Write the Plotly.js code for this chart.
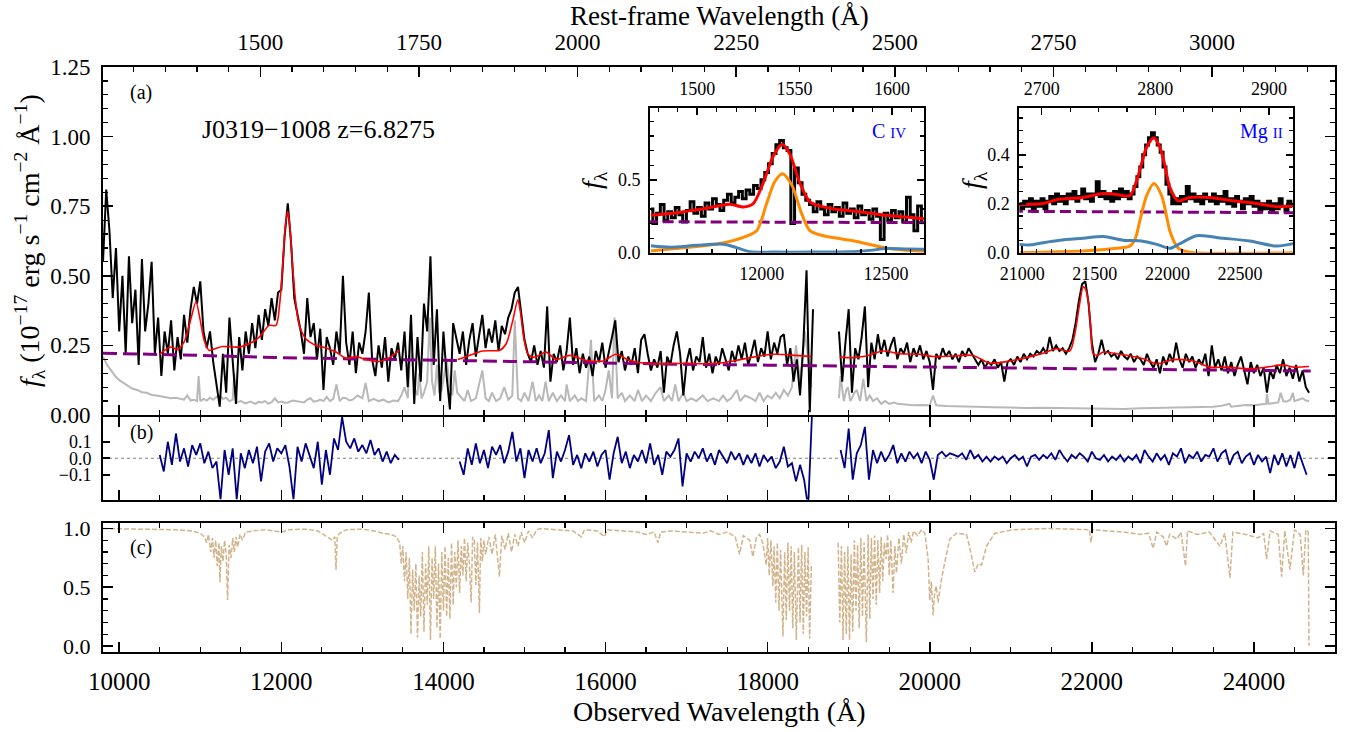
<!DOCTYPE html>
<html><head><meta charset="utf-8">
<script src="https://cdn.plot.ly/plotly-3.0.1.min.js"></script>
<style>html,body{margin:0;padding:0;background:#fff}#plot{width:1348px;height:732px}</style>
</head><body><div id="plot"></div>
<script>
// ---------------- DATA ----------------
const redshift = 6.8275;

// observed spectrum, segment 1 (start 9800 A, 40 A bins)
const spec1Start = 9800, spec1Step = 40;
const spec1Flux = [
0.55,0.81,0.66,0.42,0.60,0.30,0.50,0.22,0.57,0.33,
0.45,0.18,0.56,0.30,0.40,0.55,0.22,0.35,0.14,0.30,
0.22,0.34,0.16,0.28,0.20,0.36,0.26,0.38,0.46,0.40,
0.48,0.30,0.24,0.30,0.19,0.10,0.03,0.22,0.08,0.35,
0.18,0.04,0.28,0.16,0.30,0.22,0.33,0.24,0.36,0.27,
0.38,0.32,0.42,0.34,0.44,0.45,0.64,0.76,0.62,0.42,
0.36,0.30,0.22,0.42,0.28,0.33,0.20,0.31,0.09,0.28,
0.24,0.18,0.30,0.22,0.50,0.26,0.18,0.30,0.15,0.26,
0.22,0.30,0.44,0.20,0.14,0.25,0.17,0.28,0.12,0.24,
0.20,0.26,0.16,0.30,0.10,0.36,0.04,0.28,0.12,0.40,
0.30,0.57,0.18,0.38,0.05,0.30,0.14,0.02,0.33,0.28,
0.22,0.30,0.18,0.27,0.33,0.21,0.29,0.36,0.24,0.31,
0.26,0.34,0.23,0.32,0.29,0.35,0.38,0.44,0.46,0.37,
0.27,0.22,0.19,0.25,0.18,0.23,0.17,0.39,0.12,0.22,
0.19,0.25,0.16,0.23,0.35,0.18,0.24,0.15,0.22,0.17,
0.21,0.14,0.23,0.19,0.26,0.17,0.22,0.28,0.34,0.19,
0.23,0.16,0.21,0.18,0.24,0.15,0.27,0.29,0.22,0.16,
0.20,0.17,0.23,0.08,0.21,0.18,0.25,0.30,0.22,0.07,
0.19,0.24,0.16,0.21,0.19,0.28,0.17,0.22,0.15,0.21,
0.18,0.24,0.20,0.16,0.23,0.19,0.25,0.20,0.26,0.18,
0.22,0.27,0.19,0.24,0.21,0.30,0.20,0.26,0.22,0.28,
0.29,0.18,0.24,0.12,0.20,0.07,0.25,0.52,0.01,0.38];
// segment 2 (start 18880 A, 40 A bins)
const spec2Start = 18880, spec2Step = 40;
const spec2Flux = [
0.30,0.12,0.26,0.38,0.08,0.24,0.20,0.28,0.39,0.10,
0.26,0.20,0.29,0.22,0.27,0.21,0.25,0.28,0.20,0.24,
0.22,0.26,0.19,0.24,0.21,0.25,0.20,0.23,0.19,0.09,
0.22,0.20,0.24,0.21,0.23,0.20,0.22,0.19,0.23,0.21,
0.24,0.22,0.20,0.18,0.20,0.17,0.19,0.18,0.20,0.17,
0.19,0.12,0.19,0.20,0.18,0.21,0.19,0.22,0.20,0.22,
0.21,0.23,0.22,0.24,0.22,0.28,0.23,0.25,0.23,0.24,
0.22,0.24,0.27,0.33,0.41,0.47,0.48,0.40,0.26,0.19,
0.22,0.27,0.22,0.23,0.21,0.22,0.20,0.23,0.21,0.20,
0.22,0.19,0.21,0.20,0.18,0.22,0.19,0.17,0.20,0.15,
0.21,0.18,0.22,0.19,0.26,0.20,0.17,0.22,0.19,0.21,
0.17,0.20,0.18,0.22,0.14,0.25,0.17,0.20,0.16,0.21,
0.15,0.19,0.14,0.18,0.21,0.16,0.11,0.19,0.15,0.18,
0.14,0.17,0.08,0.16,0.13,0.18,0.15,0.20,0.14,0.17,
0.13,0.18,0.12,0.16,0.10,0.08];

// flux error spectrum (wavelength, error)
const err1Wave = [9800,9850,9900,9950,10000,10050,10100,10160,10220,10280,10340,10400,10460,10520,10580,10640,10700,10760,10800,10840,10880,10920,10960,10980,11000,11040,11080,11120,11160,11200,11240,11280,11320,11360,11400,11420,11450,11500,11560,11620,11680,11720,11760,11800,11840,11880,11920,11960,12000,12040,12080,12140,12200,12240,12280,12320,12360,12400,12440,12480,12520,12560,12600,12640,12680,12720,12760,12800,12840,12880,12940,13000,13040,13080,13140,13200,13260,13320,13380,13440,13480,13520,13560,13600,13640,13680,13700,13730,13760,13800,13830,13860,13890,13920,13950,13980,14010,14040,14080,14110,14140,14170,
14200,14260,14300,14340,14400,14440,14480,14520,14560,14600,14650,14700,14750,14800,14850,14880,14920,14960,15000,15050,15100,15140,15180,15220,15260,15300,15350,15400,15450,15500,15520,15560,15620,15660,15700,15760,15820,15860,15920,15960,16000,16040,16080,16110,16150,16200,16240,16300,16360,16400,16450,16500,16560,16620,16680,16720,16780,16820,16860,16900,16960,17000,17060,17120,17200,17260,17330,17400,17450,17500,17550,17620,17660,17720,17800,17850,17900,17950,18000,18050,18100,18150,18200,18250,18300,18350,18400,18460,18500,18540];
const err1Flux = [0.21,0.18,0.16,0.14,0.125,0.115,0.105,0.095,0.09,0.082,0.08,0.072,0.07,0.066,0.064,0.06,0.062,0.057,0.055,0.07,0.052,0.055,0.05,0.14,0.05,0.058,0.052,0.062,0.055,0.065,0.07,0.058,0.062,0.05,0.055,0.15,0.045,0.05,0.042,0.048,0.04,0.047,0.045,0.05,0.04,0.046,0.06,0.045,0.048,0.044,0.045,0.052,0.05,0.046,0.045,0.055,0.06,0.048,0.05,0.055,0.05,0.065,0.05,0.058,0.11,0.05,0.062,0.06,0.052,0.055,0.07,0.06,0.115,0.05,0.058,0.05,0.055,0.045,0.052,0.05,0.07,0.10,0.06,0.27,0.10,0.07,0.15,0.06,0.08,0.12,0.35,0.12,0.07,0.18,0.08,0.09,0.14,0.20,0.10,0.07,0.16,0.08,
0.07,0.05,0.09,0.05,0.06,0.11,0.16,0.06,0.05,0.08,0.05,0.06,0.10,0.055,0.07,0.34,0.06,0.05,0.08,0.05,0.12,0.05,0.07,0.05,0.12,0.05,0.08,0.05,0.07,0.05,0.11,0.05,0.07,0.05,0.06,0.05,0.27,0.05,0.07,0.05,0.09,0.16,0.06,0.35,0.06,0.08,0.05,0.07,0.05,0.09,0.05,0.07,0.05,0.08,0.10,0.05,0.07,0.05,0.11,0.05,0.08,0.05,0.06,0.05,0.07,0.05,0.06,0.05,0.07,0.05,0.06,0.09,0.05,0.07,0.06,0.05,0.08,0.05,0.07,0.06,0.08,0.06,0.09,0.07,0.10,0.25,0.12,0.30,0.20,0.10];
const err2Wave = [18880,18900,18940,18970,18990,19020,19040,19070,19100,19140,19180,19220,19260,19300,19350,19400,19450,19500,19560,19600,19700,19800,19900,20000,20040,20080,20200,20400,20600,20800,21000,21200,21400,21600,21800,22000,22200,22400,22600,22800,23000,23200,23400,23500,23600,23700,23720,23800,23900,24000,24080,24150,24160,24180,24250,24300,24330,24360,24400,24450,24480,24500,24550,24600,24640,24680];
const err2Flux = [0.06,0.14,0.05,0.09,0.10,0.05,0.06,0.08,0.09,0.05,0.13,0.05,0.07,0.05,0.06,0.04,0.05,0.04,0.045,0.04,0.038,0.035,0.036,0.035,0.07,0.035,0.032,0.03,0.03,0.028,0.027,0.025,0.026,0.025,0.024,0.022,0.023,0.022,0.024,0.025,0.026,0.028,0.029,0.03,0.033,0.04,0.03,0.033,0.036,0.035,0.038,0.04,0.075,0.04,0.043,0.045,0.08,0.05,0.048,0.055,0.08,0.05,0.055,0.06,0.052,0.05];

// best-fit model (wavelength, flux), three fitted windows
const fit1Wave = [10494,10560,10638,10720,10800,10880,10947,11000,11049,11111,11200,11276,11380,11481,11605,11728,11852,11934,11980,12016,12050,12078,12105,12140,12180,12222,12300,12428,12510,12600,12675,12798,12922,13045,13210,13333,13457];
const fit1Flux = [0.217,0.232,0.244,0.236,0.262,0.34,0.406,0.34,0.268,0.232,0.24,0.246,0.245,0.244,0.256,0.28,0.322,0.322,0.40,0.532,0.68,0.733,0.68,0.532,0.40,0.322,0.275,0.25,0.244,0.235,0.226,0.204,0.21,0.199,0.192,0.206,0.232];
const fit2Wave = [14177,14321,14486,14600,14691,14774,14856,14918,14950,14990,15040,15103,15165,15268,15391,15556,15761,15967,16132,16296,16584,16996,17202,17407,17613,17819,18066,18354,18540];
const fit2Flux = [0.199,0.214,0.23,0.231,0.232,0.256,0.34,0.414,0.37,0.28,0.22,0.208,0.212,0.226,0.199,0.214,0.196,0.194,0.218,0.196,0.184,0.186,0.184,0.187,0.196,0.208,0.218,0.214,0.21];
const fit3Wave = [18889,19053,19218,19424,19630,19877,20041,20288,20535,20741,20988,21194,21399,21564,21728,21790,21850,21893,21925,21955,21990,22016,22074,22140,22346,22634,22798,23004,23251,23457,23663,23951,24157,24362,24486,24680];
const fit3Flux = [0.208,0.206,0.212,0.23,0.22,0.218,0.21,0.212,0.214,0.186,0.194,0.206,0.222,0.238,0.23,0.292,0.40,0.46,0.45,0.412,0.30,0.22,0.215,0.226,0.218,0.202,0.184,0.199,0.194,0.172,0.172,0.166,0.172,0.18,0.172,0.174];

// power-law continuum
const contWave = [9800,10500,11000,12000,13000,14000,15000,16000,17000,18000,19000,20000,21000,22000,23000,24000,24700];
const contFlux = [0.222,0.218,0.214,0.206,0.201,0.196,0.190,0.186,0.182,0.179,0.175,0.172,0.169,0.166,0.163,0.160,0.158];

// residuals (50 A bins)
const res1Start = 10500, res2Start = 14200, res3Start = 18900, resStep = 50;
const res1 = [0.02,-0.08,0.10,-0.04,0.15,-0.02,0.06,-0.05,0.08,0.02,
0.09,-0.03,0.04,-0.06,-0.02,-0.25,0.05,-0.10,0.06,-0.25,
0.03,-0.06,0.05,-0.03,0.07,-0.14,0.04,0.09,-0.02,0.06,
0.03,0.08,-0.05,-0.25,0.07,-0.02,0.09,0.01,-0.06,0.10,
-0.16,0.05,-0.10,0.12,0.05,0.25,0.10,0.06,0.12,0.04,
0.08,0.03,0.11,0.02,0.06,-0.02,0.04,-0.03,0.02,-0.01];
const res2 = [-0.02,-0.10,0.06,-0.04,0.09,-0.03,0.05,-0.06,0.07,0.02,
0.08,-0.03,0.04,0.16,-0.02,0.06,-0.12,0.05,-0.02,0.06,
-0.03,0.03,0.17,-0.12,0.04,-0.02,0.05,0.14,-0.04,0.02,
-0.06,0.03,-0.02,0.04,-0.05,0.02,0.05,-0.13,0.03,0.13,
-0.03,0.04,-0.06,0.02,-0.02,0.05,-0.03,0.09,-0.04,0.02,
-0.10,0.04,0.01,0.05,0.12,-0.17,0.03,-0.02,0.04,0.00,
0.06,-0.02,0.03,-0.04,0.05,0.01,-0.03,0.04,-0.01,0.03,
-0.04,0.02,-0.03,0.03,-0.05,0.02,-0.02,0.01,-0.06,-0.02,
0.07,-0.05,-0.03,-0.14,-0.04,-0.13,-0.30,0.30];
const res3 = [0.05,-0.06,0.18,-0.13,0.03,0.08,0.19,-0.13,0.05,-0.03,
0.04,-0.02,0.02,0.08,-0.03,0.03,-0.02,0.04,0.00,0.03,
-0.03,0.04,-0.01,-0.13,0.02,0.04,0.01,0.03,0.02,0.01,
0.03,-0.01,0.05,0.00,0.02,-0.02,0.01,-0.02,0.01,-0.01,
0.01,-0.03,0.00,0.02,-0.01,0.01,-0.05,0.01,0.02,-0.01,
0.02,0.00,0.03,-0.01,0.05,0.01,-0.02,0.02,0.00,0.03,
0.01,-0.02,0.04,0.00,-0.01,0.02,-0.02,0.01,-0.01,0.02,
-0.02,0.01,-0.01,0.02,-0.03,0.05,0.01,-0.02,0.03,-0.01,
0.02,-0.04,0.03,0.01,0.06,-0.03,0.02,0.00,0.04,-0.02,
0.02,0.01,0.06,-0.02,0.03,0.05,-0.04,0.02,0.04,-0.03,
0.01,0.03,-0.04,0.02,-0.02,0.01,-0.09,0.02,-0.04,0.03,
-0.05,0.02,-0.06,0.04,-0.03,-0.10];

// telluric transmission (wavelength, transmission)
const tell1Wave = [9800,10400,10700,10900,11000,11050,11080,11100,11130,11150,11170,11190,11210,11230,11243,11260,11280,11300,11320,11337,11355,11380,11400,11420,11440,11460,11490,11520,11560,11650,11800,12000,12100,12300,12450,12520,12580,12630,12660,12675,12690,12720,12800,13000,13150,13250,13350,13420,13460,
13480,13500,13520,13540,13560,13580,13600,13620,13640,13660,13680,13700,13720,13740,13760,13780,13800,13820,13840,13860,13880,13900,13920,13940,13960,13980,14000,14020,14040,14060,14080,14100,14120,14140,14160,14180,14200,14220,14240,14260,14280,14300,14320,14342,14360,14380,14400,14420,14444,14460,14480,14500,14520,14560,14600,14640,14691,14720,14760,14800,14840,14880,14920,14960,15000,15050,15100,15150,
15200,15400,15600,15700,15740,15900,15987,16020,16200,16400,16500,16600,16646,16680,16800,17000,17200,17300,17400,17500,17600,17654,17700,17780,17818,17860,17900,17940,17983,18000,18020,18040,18065,18080,18100,18120,18140,18160,18189,18210,18230,18250,18270,18290,18310,18330,18354,18380,18400,18420,18440,18460,18480,18500,18518,18540];
const tell1Trans = [1.0,0.995,0.99,0.98,0.96,0.93,0.88,0.95,0.80,0.92,0.75,0.90,0.68,0.88,0.54,0.85,0.72,0.90,0.78,0.39,0.86,0.75,0.92,0.80,0.93,0.84,0.95,0.90,0.97,0.98,0.99,0.97,0.99,0.995,0.98,0.95,0.92,0.90,0.93,0.65,0.93,0.96,0.99,0.995,0.98,0.96,0.95,0.93,0.88,
0.70,0.85,0.55,0.80,0.40,0.75,0.10,0.65,0.30,0.70,0.07,0.60,0.25,0.80,0.12,0.70,0.35,0.85,0.05,0.75,0.40,0.85,0.15,0.70,0.06,0.80,0.30,0.85,0.25,0.75,0.23,0.88,0.35,0.80,0.50,0.90,0.45,0.85,0.60,0.92,0.55,0.88,0.70,0.37,0.93,0.90,0.52,0.88,0.28,0.92,0.72,0.90,0.78,0.93,0.78,0.95,0.59,0.94,0.82,0.96,0.80,0.95,0.85,0.97,0.88,0.98,0.92,0.99,
1.0,0.99,0.98,0.93,0.99,0.98,0.93,0.99,0.98,0.97,0.95,0.97,0.88,0.97,0.98,0.97,0.96,0.98,0.95,0.97,0.93,0.78,0.94,0.90,0.76,0.92,0.95,0.88,0.69,0.92,0.60,0.90,0.51,0.85,0.37,0.88,0.30,0.82,0.08,0.80,0.22,0.88,0.30,0.85,0.15,0.80,0.05,0.84,0.20,0.86,0.10,0.80,0.25,0.84,0.06,0.70];
const tell2Wave = [18870,18890,18910,18930,18950,18970,18990,19010,19030,19050,19070,19090,19110,19130,19150,19170,19190,19218,19240,19260,19280,19300,19320,19340,19360,19382,19400,19420,19440,19460,19480,19500,19520,19548,19570,19590,19620,19650,19680,19710,19740,19770,19800,19850,19900,19940,19980,20000,20020,20041,20060,20080,20103,20140,20185,20247,20330,20453,20490,20515,20556,20597,20640,20700,20803,21029,21440,21800,21970,21988,22010,22200,22400,22593,22700,22757,22800,22880,22922,22960,23050,23100,23156,23180,23300,23450,23580,23640,23704,23740,23900,24050,24120,24156,24200,24300,24342,24380,24444,24500,24570,24609,24640,24670,24679];
const tell2Trans = [0.88,0.20,0.85,0.05,0.80,0.10,0.85,0.05,0.78,0.12,0.90,0.30,0.86,0.15,0.92,0.25,0.88,0.03,0.95,0.23,0.92,0.40,0.94,0.35,0.90,0.45,0.93,0.55,0.88,0.74,0.95,0.60,0.90,0.45,0.85,0.62,0.92,0.70,0.95,0.79,0.97,0.88,0.98,0.94,0.99,0.96,0.74,0.39,0.55,0.26,0.45,0.51,0.37,0.55,0.71,0.91,0.96,0.95,0.85,0.76,0.63,0.70,0.69,0.85,0.96,0.99,1.0,0.995,0.99,0.88,0.99,0.98,0.97,0.95,0.96,0.83,0.97,0.93,0.85,0.95,0.91,0.97,0.68,0.98,0.95,0.97,0.85,0.96,0.58,0.97,0.95,0.92,0.96,0.74,0.98,0.95,0.59,0.98,0.65,0.99,0.95,0.60,0.99,0.97,0.0];

// C IV inset: observed spectrum (15 A bins) and model components
const civStart = 11555, civStep = 15;
const civFlux = [0.30,0.20,0.27,0.33,0.22,0.28,0.24,0.31,0.26,0.21,
0.29,0.35,0.27,0.31,0.25,0.34,0.30,0.37,0.33,0.29,
0.36,0.40,0.34,0.38,0.42,0.37,0.43,0.40,0.46,0.44,
0.50,0.55,0.61,0.68,0.74,0.77,0.72,0.70,0.20,0.58,
0.48,0.40,0.36,0.33,0.28,0.35,0.30,0.26,0.33,0.28,
0.31,0.25,0.34,0.27,0.30,0.24,0.32,0.26,0.29,0.23,
0.30,0.25,0.09,0.27,0.22,0.29,0.24,0.28,0.21,0.38,
0.26,0.15,0.32,0.22];
const civFitWave = [11555,11631,11700,11765,11830,11873,11926,11966,12006,12047,12083,12114,12154,12194,12248,12300,12368,12440,12503,12580,12653];
const civFitFlux = [0.256,0.268,0.285,0.302,0.322,0.333,0.314,0.337,0.477,0.663,0.744,0.674,0.477,0.349,0.314,0.298,0.286,0.27,0.256,0.244,0.233];
const civBroadWave = [11555,11698,11832,11926,11980,12020,12053,12084,12121,12161,12194,12248,12368,12503,12653];
const civBroadFlux = [0.012,0.035,0.063,0.105,0.151,0.337,0.488,0.542,0.465,0.268,0.151,0.116,0.082,0.031,0.01];
const civFeWave = [11555,11631,11739,11846,11899,11953,12050,12200,12350,12435,12503,12580,12653];
const civFeFlux = [0.047,0.037,0.051,0.058,0.035,0.007,0.004,0.004,0.006,0.016,0.028,0.025,0.023];

// Mg II inset: observed spectrum (20 A bins) and model components
const mgStart = 20980, mgStep = 20;
const mgFlux = [0.20,0.18,0.21,0.19,0.22,0.17,0.21,0.19,0.22,0.18,
0.21,0.23,0.20,0.24,0.21,0.23,0.20,0.24,0.22,0.25,
0.21,0.23,0.26,0.22,0.24,0.21,0.24,0.29,0.23,0.25,
0.22,0.24,0.21,0.25,0.22,0.26,0.23,0.25,0.22,0.24,
0.27,0.31,0.35,0.40,0.44,0.47,0.49,0.47,0.44,0.41,
0.35,0.28,0.24,0.20,0.22,0.20,0.23,0.21,0.27,0.22,
0.24,0.21,0.23,0.20,0.24,0.22,0.21,0.24,0.20,0.23,
0.21,0.25,0.20,0.22,0.19,0.23,0.21,0.18,0.22,0.20,
0.23,0.19,0.21,0.17,0.20,0.18,0.21,0.17,0.20,0.18,
0.22,0.19,0.17,0.21,0.19];
const mgFitWave = [20980,21060,21145,21260,21420,21558,21650,21742,21788,21825,21857,21907,21948,21985,22017,22074,22155,22293,22453,22614,22752,22867];
const mgFitFlux = [0.196,0.198,0.201,0.219,0.226,0.242,0.238,0.233,0.294,0.37,0.431,0.47,0.431,0.35,0.267,0.212,0.226,0.226,0.212,0.201,0.188,0.192];
const mgBroadWave = [20980,21420,21650,21742,21780,21810,21857,21907,21960,22017,22060,22086,22150,22867];
const mgBroadFlux = [0.0,0.007,0.018,0.027,0.06,0.13,0.233,0.283,0.233,0.089,0.03,0.014,0.002,0.0];
const mgFeWave = [20980,21060,21145,21260,21420,21558,21696,21822,21926,22017,22086,22201,22384,22568,22752,22867];
const mgFeFlux = [0.034,0.032,0.041,0.051,0.059,0.066,0.051,0.048,0.034,0.018,0.037,0.069,0.059,0.048,0.027,0.037];

// ---------------- BUILD ----------------
function grid(start, step, n){ const a=[]; for(let i=0;i<n;i++) a.push(start+i*step); return a; }
function join(parts){ const x=[], y=[]; parts.forEach((p,i)=>{ if(i>0){x.push(null);y.push(null);} x.push(...p[0]); y.push(...p[1]); }); return [x,y]; }
const toRest = arr => arr.map(w => w/(1+redshift));

const [specX, specY] = join([[grid(spec1Start,spec1Step,spec1Flux.length),spec1Flux],[grid(spec2Start,spec2Step,spec2Flux.length),spec2Flux]]);
const [errX, errY] = join([[err1Wave,err1Flux],[err2Wave,err2Flux]]);
const [fitX, fitY] = join([[fit1Wave,fit1Flux],[fit2Wave,fit2Flux],[fit3Wave,fit3Flux]]);
const [resX, resY] = join([[grid(res1Start,resStep,res1.length),res1],[grid(res2Start,resStep,res2.length),res2],[grid(res3Start,resStep,res3.length),res3]]);
const [tellX, tellY] = join([[tell1Wave,tell1Trans],[tell2Wave,tell2Trans]]);

const FONT = '"Liberation Serif", "Times New Roman", serif';
const W = 1348, H = 732;
const px = p => p/W, py = p => 1 - p/H;
const ghost = {mode:'lines', line:{width:0, color:'rgba(0,0,0,0)'}, opacity:0, hoverinfo:'skip'};

const traces = [
  {x:errX, y:errY, xaxis:'x2', yaxis:'y', mode:'lines', line:{color:'#b8b8b8', width:2}, connectgaps:false},
  {x:specX, y:specY, xaxis:'x2', yaxis:'y', mode:'lines', line:{color:'black', width:2}, connectgaps:false},
  {x:contWave, y:contFlux, xaxis:'x2', yaxis:'y', mode:'lines', line:{color:'purple', width:3, dash:'14px,6px'}},
  {x:fitX, y:fitY, xaxis:'x2', yaxis:'y', mode:'lines', line:{color:'red', width:1.6, shape:'spline', smoothing:0.8}, connectgaps:false},
  Object.assign({x:toRest(contWave), y:contFlux, xaxis:'x4', yaxis:'y'}, ghost),
  {x:resX, y:resY, xaxis:'x3', yaxis:'y2', mode:'lines', line:{color:'#000080', width:1.8}, connectgaps:false},
  {x:tellX, y:tellY, xaxis:'x', yaxis:'y3', mode:'lines', line:{color:'#d2b48c', width:1.5, dash:'5px,2px'}, connectgaps:false},
  // C IV inset
  {x:grid(civStart,civStep,civFlux.length), y:civFlux, xaxis:'x5', yaxis:'y4', mode:'lines', line:{color:'black', width:3, shape:'hvh'}},
  {x:contWave, y:contFlux, xaxis:'x5', yaxis:'y4', mode:'lines', line:{color:'purple', width:3, dash:'11px,5px'}},
  {x:civFitWave, y:civFitFlux, xaxis:'x5', yaxis:'y4', mode:'lines', line:{color:'red', width:3, shape:'spline', smoothing:0.8}},
  {x:civBroadWave, y:civBroadFlux, xaxis:'x5', yaxis:'y4', mode:'lines', line:{color:'#ff8c00', width:3, shape:'spline', smoothing:0.8}},
  {x:civFeWave, y:civFeFlux, xaxis:'x5', yaxis:'y4', mode:'lines', line:{color:'#4682b4', width:3, shape:'spline', smoothing:0.8}},
  Object.assign({x:toRest(civFitWave), y:civFitFlux, xaxis:'x6', yaxis:'y4'}, ghost),
  // Mg II inset
  {x:grid(mgStart,mgStep,mgFlux.length), y:mgFlux, xaxis:'x7', yaxis:'y5', mode:'lines', line:{color:'black', width:3, shape:'hvh'}},
  {x:contWave, y:contFlux, xaxis:'x7', yaxis:'y5', mode:'lines', line:{color:'purple', width:3, dash:'11px,5px'}},
  {x:mgFitWave, y:mgFitFlux, xaxis:'x7', yaxis:'y5', mode:'lines', line:{color:'red', width:3, shape:'spline', smoothing:0.8}},
  {x:mgBroadWave, y:mgBroadFlux, xaxis:'x7', yaxis:'y5', mode:'lines', line:{color:'#ff8c00', width:3, shape:'spline', smoothing:0.8}},
  {x:mgFeWave, y:mgFeFlux, xaxis:'x7', yaxis:'y5', mode:'lines', line:{color:'#4682b4', width:3, shape:'spline', smoothing:0.8}},
  Object.assign({x:toRest(mgFitWave), y:mgFitFlux, xaxis:'x8', yaxis:'y5'}, ghost)
];

function ax(o){
  return Object.assign({showline:true, linecolor:'black', linewidth:2, ticks:'inside', tickcolor:'black',
    tickwidth:1.6, ticklen:10, showgrid:false, zeroline:false, fixedrange:true, autorange:false,
    tickfont:{family:FONT, size:23, color:'black'}}, o);
}
function mn(dtick, len){ return {ticks:'inside', dtick:dtick, ticklen:len||5, tickwidth:1.2, tickcolor:'black', showgrid:false}; }

const XD = [px(103), px(1335)];
const obsRange = [9800, 25000];
const civRange = [11551, 12653];
const mgRange = [20980, 22867];
const insetFont = {family:FONT, size:18, color:'black'};

const layout = {
  width:W, height:H, margin:{l:0,r:0,t:0,b:0}, showlegend:false,
  paper_bgcolor:'white', plot_bgcolor:'white',
  xaxis: ax({domain:XD, anchor:'y3', range:obsRange, dtick:2000, tick0:0, tickformat:'d', minor:mn(500), mirror:'ticks', tickfont:{family:FONT,size:25,color:'black'}, ticklabelstandoff:6}),
  xaxis2: ax({domain:XD, anchor:'y', matches:'x', showticklabels:false, dtick:2000, tick0:0, minor:mn(500), mirror:false}),
  xaxis3: ax({domain:XD, anchor:'y2', matches:'x', showticklabels:false, dtick:2000, tick0:0, minor:mn(500), mirror:'ticks'}),
  xaxis4: ax({overlaying:'x2', side:'top', anchor:'y', range:[obsRange[0]/(1+redshift), obsRange[1]/(1+redshift)], dtick:250, tick0:0, tickformat:'d', minor:mn(50), tickfont:{family:FONT,size:23,color:'black'}, ticklabelstandoff:6}),
  yaxis: ax({domain:[py(415), py(67)], anchor:'x2', range:[0,1.25], dtick:0.25, tick0:0, tickformat:'.2f', minor:mn(0.05), mirror:'ticks', ticklabelstandoff:6}),
  yaxis2: ax({domain:[py(499.5), py(417)], anchor:'x3', range:[-0.25,0.25], tickvals:[-0.1,0,0.1], tickformat:'.1f', mirror:'ticks', ticklen:7, ticklabelstandoff:6, tickfont:{family:FONT,size:18,color:'black'}}),
  yaxis3: ax({domain:[py(651.7), py(522.7)], anchor:'x', range:[-0.05,1.05], dtick:0.5, tick0:0, tickformat:'.1f', minor:mn(0.1), mirror:'ticks', ticklabelstandoff:6, tickfont:{family:FONT,size:22,color:'black'}}),
  // C IV inset
  xaxis5: ax({domain:[px(650), px(924)], anchor:'y4', range:civRange, dtick:500, tick0:0, tickformat:'d', minor:mn(100,4), ticklen:7, mirror:false, tickfont:insetFont, ticklabelstandoff:4}),
  xaxis6: ax({overlaying:'x5', side:'top', anchor:'y4', range:[civRange[0]/(1+redshift), civRange[1]/(1+redshift)], dtick:50, tick0:0, tickformat:'d', minor:mn(10,4), ticklen:7, tickfont:insetFont, ticklabelstandoff:4}),
  yaxis4: ax({domain:[py(252.7), py(108.3)], anchor:'x5', range:[0,0.99], dtick:0.5, tick0:0, tickformat:'.1f', minor:mn(0.1,4), ticklen:7, mirror:'ticks', tickfont:insetFont, ticklabelstandoff:4}),
  // Mg II inset
  xaxis7: ax({domain:[px(1019.3), px(1293.3)], anchor:'y5', range:mgRange, dtick:500, tick0:0, tickformat:'d', minor:mn(100,4), ticklen:7, mirror:false, tickfont:insetFont, ticklabelstandoff:4}),
  xaxis8: ax({overlaying:'x7', side:'top', anchor:'y5', range:[mgRange[0]/(1+redshift), mgRange[1]/(1+redshift)], dtick:100, tick0:0, tickformat:'d', minor:mn(25,4), ticklen:7, tickfont:insetFont, ticklabelstandoff:4}),
  yaxis5: ax({domain:[py(252.7), py(108.3)], anchor:'x7', range:[0,0.59], dtick:0.2, tick0:0, tickformat:'.1f', minor:mn(0.05,4), ticklen:7, mirror:'ticks', tickfont:insetFont, ticklabelstandoff:4}),
  shapes:[
    {type:'line', xref:'x3 domain', yref:'y2', x0:0, x1:1, y0:0, y1:0, line:{color:'gray', width:1.2, dash:'dot'}, layer:'below'}
  ],
  annotations:[
    {text:'Rest-frame Wavelength (Å)', x:px(719), y:py(16), xref:'paper', yref:'paper', showarrow:false, xanchor:'center', yanchor:'middle', font:{family:FONT,size:27,color:'black'}},
    {text:'Observed Wavelength (Å)', x:px(719), y:py(711), xref:'paper', yref:'paper', showarrow:false, xanchor:'center', yanchor:'middle', font:{family:FONT,size:28,color:'black'}},
    {text:'<i>f</i><sub>λ</sub> (10<sup>−17</sup> erg s<sup>−1</sup> cm<sup>−2</sup> Å<sup>−1</sup>)', x:px(30), y:py(241), xref:'paper', yref:'paper', showarrow:false, textangle:-90, xanchor:'center', yanchor:'middle', font:{family:FONT,size:28,color:'black'}},
    {text:'(a)', x:px(141), y:py(92), xref:'paper', yref:'paper', showarrow:false, xanchor:'center', yanchor:'middle', font:{family:FONT,size:20,color:'black'}},
    {text:'(b)', x:px(141), y:py(432), xref:'paper', yref:'paper', showarrow:false, xanchor:'center', yanchor:'middle', font:{family:FONT,size:20,color:'black'}},
    {text:'(c)', x:px(141), y:py(547), xref:'paper', yref:'paper', showarrow:false, xanchor:'center', yanchor:'middle', font:{family:FONT,size:20,color:'black'}},
    {text:'J0319−1008 z=6.8275', x:px(318), y:py(129), xref:'paper', yref:'paper', showarrow:false, xanchor:'center', yanchor:'middle', font:{family:FONT,size:26,color:'black'}},
    {text:'<i>f</i><sub>λ</sub>', x:px(593), y:py(180), xref:'paper', yref:'paper', showarrow:false, textangle:-90, xanchor:'center', yanchor:'middle', font:{family:FONT,size:28,color:'black'}},
    {text:'<i>f</i><sub>λ</sub>', x:px(973), y:py(180), xref:'paper', yref:'paper', showarrow:false, textangle:-90, xanchor:'center', yanchor:'middle', font:{family:FONT,size:28,color:'black'}},
    {text:'C <span style="font-size:15px">IV</span>', x:px(889), y:py(131), xref:'paper', yref:'paper', showarrow:false, xanchor:'center', yanchor:'middle', font:{family:FONT,size:20,color:'blue'}},
    {text:'Mg <span style="font-size:15px">II</span>', x:px(1261), y:py(131), xref:'paper', yref:'paper', showarrow:false, xanchor:'center', yanchor:'middle', font:{family:FONT,size:20,color:'blue'}}
  ]
};

Plotly.newPlot('plot', traces, layout, {staticPlot:true, displayModeBar:false});
</script></body></html>
